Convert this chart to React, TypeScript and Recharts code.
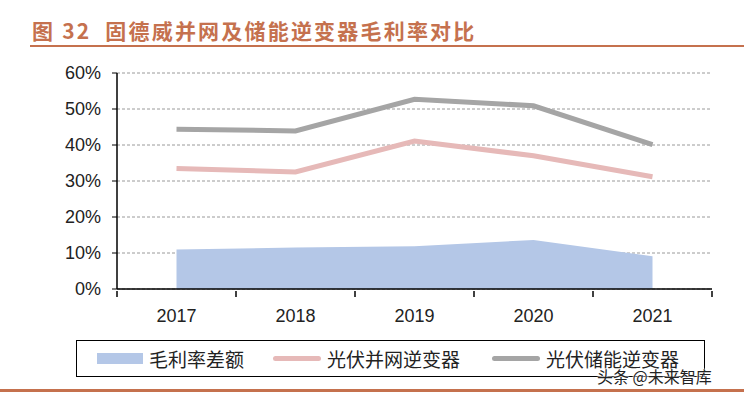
import React from "react";
import {
  ComposedChart,
  Area,
  Line,
  XAxis,
  YAxis,
  CartesianGrid,
} from "recharts";

const years = ["2017", "2018", "2019", "2020", "2021"];
const marginGap = [11.0, 11.5, 11.9, 13.6, 9.1];
const gridTied = [33.5, 32.5, 41.1, 37.0, 31.2];
const storage = [44.4, 43.9, 52.7, 50.9, 40.1];
const yTicks = [0, 10, 20, 30, 40, 50, 60];

// numeric x so ticks sit on category boundaries and points in the middle
const data = years.map((y, i) => ({
  x: i + 0.5,
  year: y,
  gap: marginGap[i],
  grid: gridTied[i],
  storage: storage[i],
}));

const AXIS_FONT = "'Liberation Sans', Arial, sans-serif";
const CJK_FONT = "'Noto Sans CJK SC', sans-serif";
const BROWN = "#c5714e";

function XTick(props: any) {
  const { x, y, index } = props;
  const band = 119;
  const label = index < years.length ? years[index] : null;
  return (
    <g>
      <line x1={x} y1={y - 6} x2={x} y2={y} stroke="#000" strokeWidth={1.5} />
      {label && (
        <text
          x={x + band / 2}
          y={y + 25}
          textAnchor="middle"
          fontFamily={AXIS_FONT}
          fontSize={18}
          fill="#222"
        >
          {label}
        </text>
      )}
    </g>
  );
}

function LegendBox() {
  const item = (swatch: React.ReactNode, text: string, left: number) => (
    <div
      style={{
        position: "absolute",
        left,
        top: 0,
        height: 35,
        display: "flex",
        alignItems: "center",
      }}
    >
      {swatch}
      <span style={{ marginLeft: 6, fontSize: 19, fontFamily: CJK_FONT, color: "#222" }}>
        {text}
      </span>
    </div>
  );
  return (
    <div
      style={{
        position: "absolute",
        left: 76,
        top: 340,
        width: 627,
        height: 35,
        border: "1.5px solid #000",
      }}
    >
      {item(<div style={{ width: 46, height: 11, background: "#b4c7e7" }} />, "毛利率差额", 20)}
      {item(<div style={{ width: 48, height: 5, borderRadius: 3, background: "#e6b9b8" }} />, "光伏并网逆变器", 196)}
      {item(<div style={{ width: 48, height: 5, borderRadius: 3, background: "#a5a5a5" }} />, "光伏储能逆变器", 415)}
    </div>
  );
}

export default function App() {
  return (
    <div
      style={{
        position: "absolute",
        left: 0,
        top: 0,
        width: 744,
        height: 398,
        background: "#fff",
        overflow: "hidden",
      }}
    >
      <div
        style={{
          position: "absolute",
          left: 32,
          top: 15,
          fontFamily: CJK_FONT,
          fontWeight: 700,
          fontSize: 21,
          letterSpacing: 2.2,
          color: BROWN,
          whiteSpace: "pre",
        }}
      >
        图 32  固德威并网及储能逆变器毛利率对比
      </div>
      <div
        style={{ position: "absolute", left: 30, top: 45, width: 714, height: 2, background: BROWN }}
      />
      <div
        style={{ position: "absolute", left: 0, top: 389, width: 744, height: 3, background: BROWN }}
      />

      <ComposedChart
        width={744}
        height={398}
        data={data}
        margin={{ top: 73, right: 32, bottom: 79, left: 57 }}
        style={{ position: "absolute", left: 0, top: 0 }}
      >
        <CartesianGrid
          horizontal
          vertical={false}
          stroke="#9a9a9a"
          strokeDasharray="3 2"
        />
        <XAxis
          type="number"
          dataKey="x"
          domain={[0, 5]}
          ticks={[0, 1, 2, 3, 4, 5]}
          interval={0}
          height={30}
          axisLine={{ stroke: "#000", strokeWidth: 1.5 }}
          tickLine={false}
          tick={<XTick />}
        />
        <YAxis
          domain={[0, 60]}
          ticks={yTicks}
          width={60}
          interval={0}
          tickFormatter={(v: number) => `${v}%`}
          axisLine={{ stroke: "#000", strokeWidth: 1.5 }}
          tickLine={{ stroke: "#000" }}
          tickSize={5}
          tickMargin={11}
          tick={{ fontFamily: AXIS_FONT, fontSize: 18, fill: "#222" }}
        />
        <Area
          type="linear"
          dataKey="gap"
          stroke="none"
          fill="#b4c7e7"
          fillOpacity={1}
          isAnimationActive={false}
        />
        <Line
          type="linear"
          dataKey="grid"
          stroke="#e6b9b8"
          strokeWidth={5}
          dot={false}
          isAnimationActive={false}
        />
        <Line
          type="linear"
          dataKey="storage"
          stroke="#a5a5a5"
          strokeWidth={5}
          dot={false}
          isAnimationActive={false}
        />
      </ComposedChart>

      <LegendBox />
      <div
        style={{
          position: "absolute",
          left: 597,
          top: 366,
          fontFamily: CJK_FONT,
          fontSize: 16,
          lineHeight: "20px",
          color: "#222",
          textShadow: "0 0 2px #fff, 0 0 2px #fff, 0 0 2px #fff",
        }}
      >
        头条 @未来智库
      </div>
    </div>
  );
}
